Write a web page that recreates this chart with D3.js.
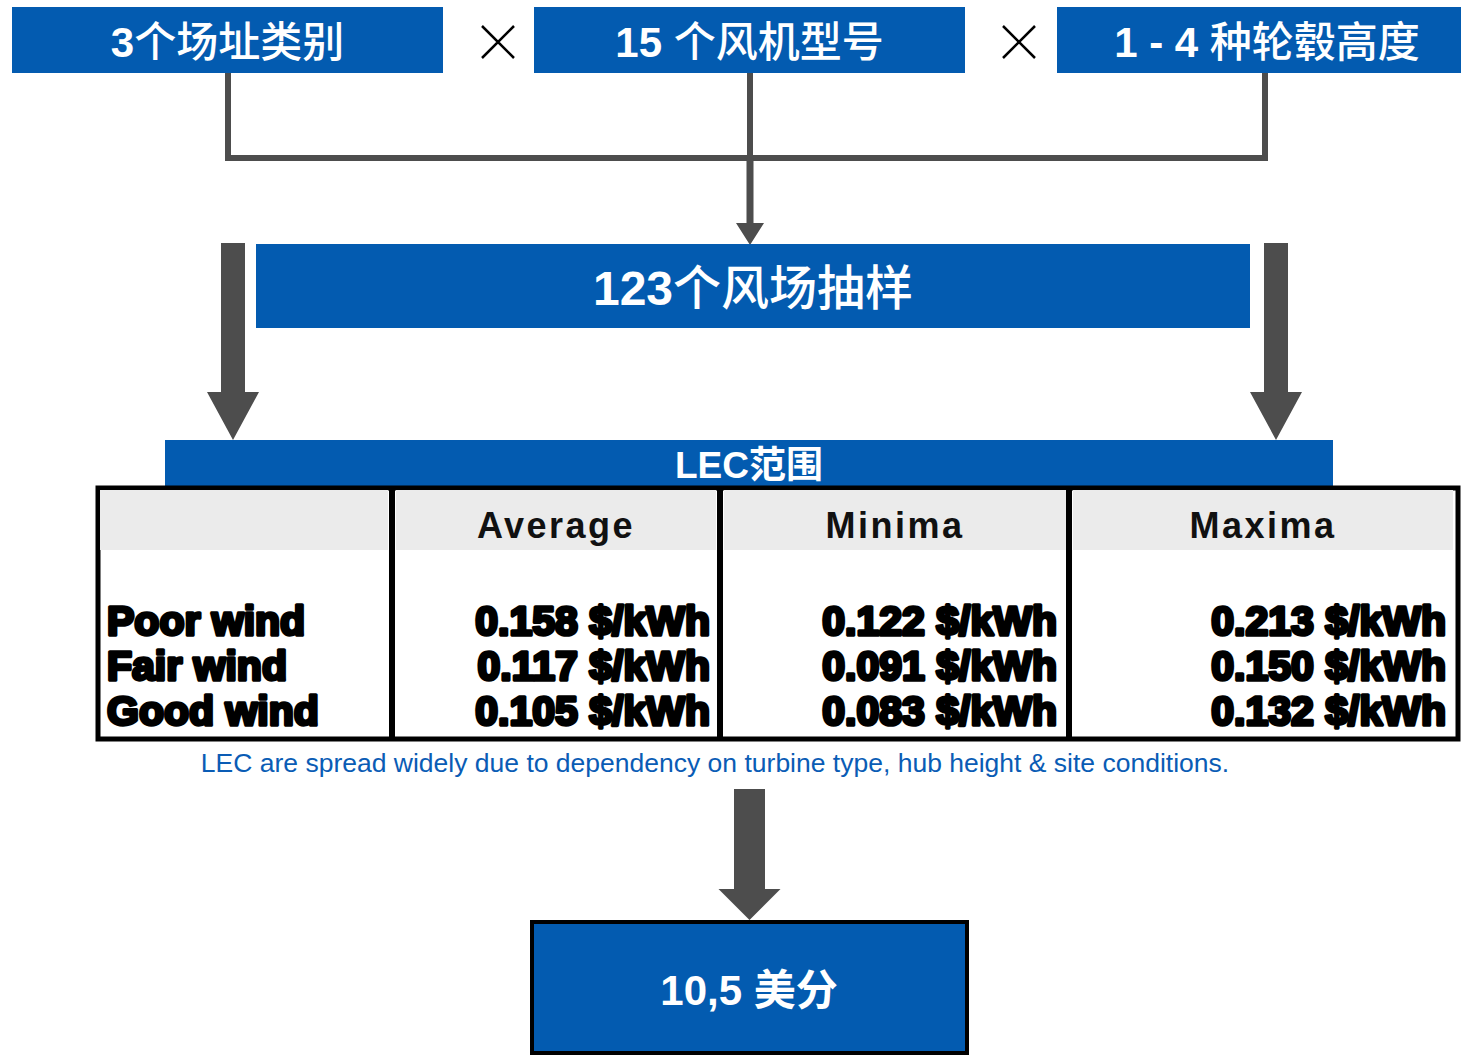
<!DOCTYPE html>
<meta charset="utf-8">
<head>
<script src="https://d3js.org/d3.v7.min.js"></script>
<style>
  body { margin: 0; background: #fff; }
  text { font-family: "Liberation Sans", Arial, "Noto Sans CJK SC", sans-serif; }
</style>
</head>
<body>
<script>

// data
var factors = ["3个场址类别", "15 个风机型号", "1 - 4 种轮毂高度"];
var sampleLabel = "123个风场抽样";
var rangeLabel = "LEC范围";
var columns = ["", "Average", "Minima", "Maxima"];
var rows = ["Poor wind", "Fair wind", "Good wind"];
var average = ["0.158 $/kWh", "0.117 $/kWh", "0.105 $/kWh"];
var minima = ["0.122 $/kWh", "0.091 $/kWh", "0.083 $/kWh"];
var maxima = ["0.213 $/kWh", "0.150 $/kWh", "0.132 $/kWh"];
var note = "LEC are spread widely due to dependency on turbine type, hub height & site conditions.";
var result = "10,5 美分";

var blue = "#035bb0", grey = "#4d4d4d";

var svg = d3.select("body").append("svg")
    .attr("width", 1461)
    .attr("height", 1056);

// bold digits, lighter CJK, like the original slide
function mixed(sel) {
  sel.each(function(d) {
    var m = d.match(/^[\d\s\-,]+/), num = m ? m[0] : "", rest = d.slice(num.length);
    var t = d3.select(this);
    t.append("tspan").attr("font-weight", "bold")
        .style("font-family", "'Liberation Sans Narrow', 'Liberation Sans', sans-serif").text(num);
    t.append("tspan").attr("font-weight", 500)
        .style("font-family", "'Noto Sans CJK SC', sans-serif").text(rest);
  });
}

// top factor boxes
var boxes = [{x: 12, w: 431}, {x: 534, w: 431}, {x: 1057, w: 404}];
var topRow = svg.append("g");
topRow.selectAll("rect").data(factors).enter().append("rect")
    .attr("x", function(d, i) { return boxes[i].x; })
    .attr("y", 7).attr("width", function(d, i) { return boxes[i].w; })
    .attr("height", 66).attr("fill", blue);
topRow.selectAll("text").data(factors).enter().append("text")
    .attr("x", function(d, i) { return i == 2 ? 1267 : boxes[i].x + boxes[i].w / 2; })
    .attr("y", 42).attr("dy", "0.36em")
    .attr("text-anchor", "middle")
    .attr("fill", "#fff").attr("font-size", 42)
    .call(mixed);

// multiply signs
[498, 1019].forEach(function(cx) {
  svg.append("path")
      .attr("d", "M" + (cx - 16) + ",26L" + (cx + 16) + ",58M" + (cx + 16) + ",26L" + (cx - 16) + ",58")
      .attr("stroke", "#000").attr("stroke-width", 2.5);
});

// connector lines
svg.append("path")
    .attr("d", "M228,73V158H1265V73M750,73V158")
    .attr("fill", "none").attr("stroke", grey).attr("stroke-width", 6);

function arrow(cx, y0, y1, shaft, head, headLen) {
  svg.append("path")
      .attr("d", "M" + (cx - shaft / 2) + "," + y0 + "V" + (y1 - headLen) +
        "H" + (cx - head / 2) + "L" + cx + "," + y1 + "L" + (cx + head / 2) + "," + (y1 - headLen) +
        "H" + (cx + shaft / 2) + "V" + y0 + "Z")
      .attr("fill", grey);
}
arrow(750, 158, 245, 7, 28, 22);

// sample box
svg.append("rect").attr("x", 256).attr("y", 244).attr("width", 994).attr("height", 84).attr("fill", blue);
svg.append("text").datum(sampleLabel).attr("x", 753).attr("y", 288).attr("dy", "0.36em")
    .attr("text-anchor", "middle").attr("fill", "#fff")
    .attr("font-size", 48)
    .call(mixed);

arrow(233, 243, 440, 24, 52, 48);
arrow(1276, 243, 440, 24, 52, 48);

// LEC header bar
svg.append("rect").attr("x", 165).attr("y", 440).attr("width", 1168).attr("height", 47).attr("fill", blue);
svg.append("text").attr("x", 749).attr("y", 465).attr("dy", "0.36em")
    .attr("text-anchor", "middle").attr("fill", "#fff")
    .attr("font-size", 37).attr("font-weight", "bold")
    .text(rangeLabel);

// table
var colX = [100, 396, 724, 1073], colW = [288, 320, 342, 380];
var table = svg.append("g");
table.append("rect").attr("x", 98).attr("y", 488).attr("width", 1360).attr("height", 251)
    .attr("fill", "#fff").attr("stroke", "#000").attr("stroke-width", 5);
table.selectAll("rect.head").data(columns).enter().append("rect").attr("class", "head")
    .attr("x", function(d, i) { return colX[i]; }).attr("y", 490)
    .attr("width", function(d, i) { return colW[i]; }).attr("height", 60)
    .attr("fill", "#ebebeb");
table.selectAll("line.sep").data([392, 720, 1069]).enter().append("line").attr("class", "sep")
    .attr("x1", function(d) { return d; }).attr("x2", function(d) { return d; })
    .attr("y1", 488).attr("y2", 739)
    .attr("stroke", "#000").attr("stroke-width", 6);
table.selectAll("text.head").data(columns).enter().append("text").attr("class", "head")
    .attr("x", function(d, i) { return colX[i] + colW[i] / 2; })
    .attr("y", 525).attr("dy", "0.36em").attr("text-anchor", "middle")
    .attr("font-size", 36).attr("font-weight", "bold").attr("letter-spacing", 2.5)
    .attr("fill", "#111")
    .text(function(d) { return d; });

var y = d3.scalePoint().domain(rows).range([620, 710]);

function heavy(sel) {
  sel.attr("font-size", 41).attr("font-weight", "bold")
     .attr("fill", "#000").attr("stroke", "#000").attr("stroke-width", 3.4)
     .attr("stroke-linejoin", "round")
     .attr("letter-spacing", 0).attr("dy", "0.36em");
}
table.selectAll("text.row").data(rows).enter().append("text").attr("class", "row")
    .attr("x", 107).attr("y", function(d) { return y(d); })
    .call(heavy).text(function(d) { return d; });

[[average, 710], [minima, 1057], [maxima, 1446]].forEach(function(c) {
  table.selectAll(null).data(c[0]).enter().append("text")
      .attr("x", c[1]).attr("y", function(d, i) { return y(rows[i]); })
      .attr("text-anchor", "end")
      .call(heavy).text(function(d) { return d; });
});

// note
svg.append("text").attr("x", 715).attr("y", 762).attr("dy", "0.36em")
    .attr("text-anchor", "middle").attr("fill", "#0a5cb5").attr("font-size", 26.5)
    .text(note);

arrow(749.5, 789, 920, 31, 62, 31);

// result box
svg.append("rect").attr("x", 532).attr("y", 922).attr("width", 435).attr("height", 131)
    .attr("fill", blue).attr("stroke", "#000").attr("stroke-width", 4);
svg.append("text").attr("x", 749).attr("y", 990).attr("dy", "0.36em")
    .attr("text-anchor", "middle").attr("fill", "#fff")
    .attr("font-size", 42).attr("font-weight", "bold")
    .text(result);

</script>
</body>
